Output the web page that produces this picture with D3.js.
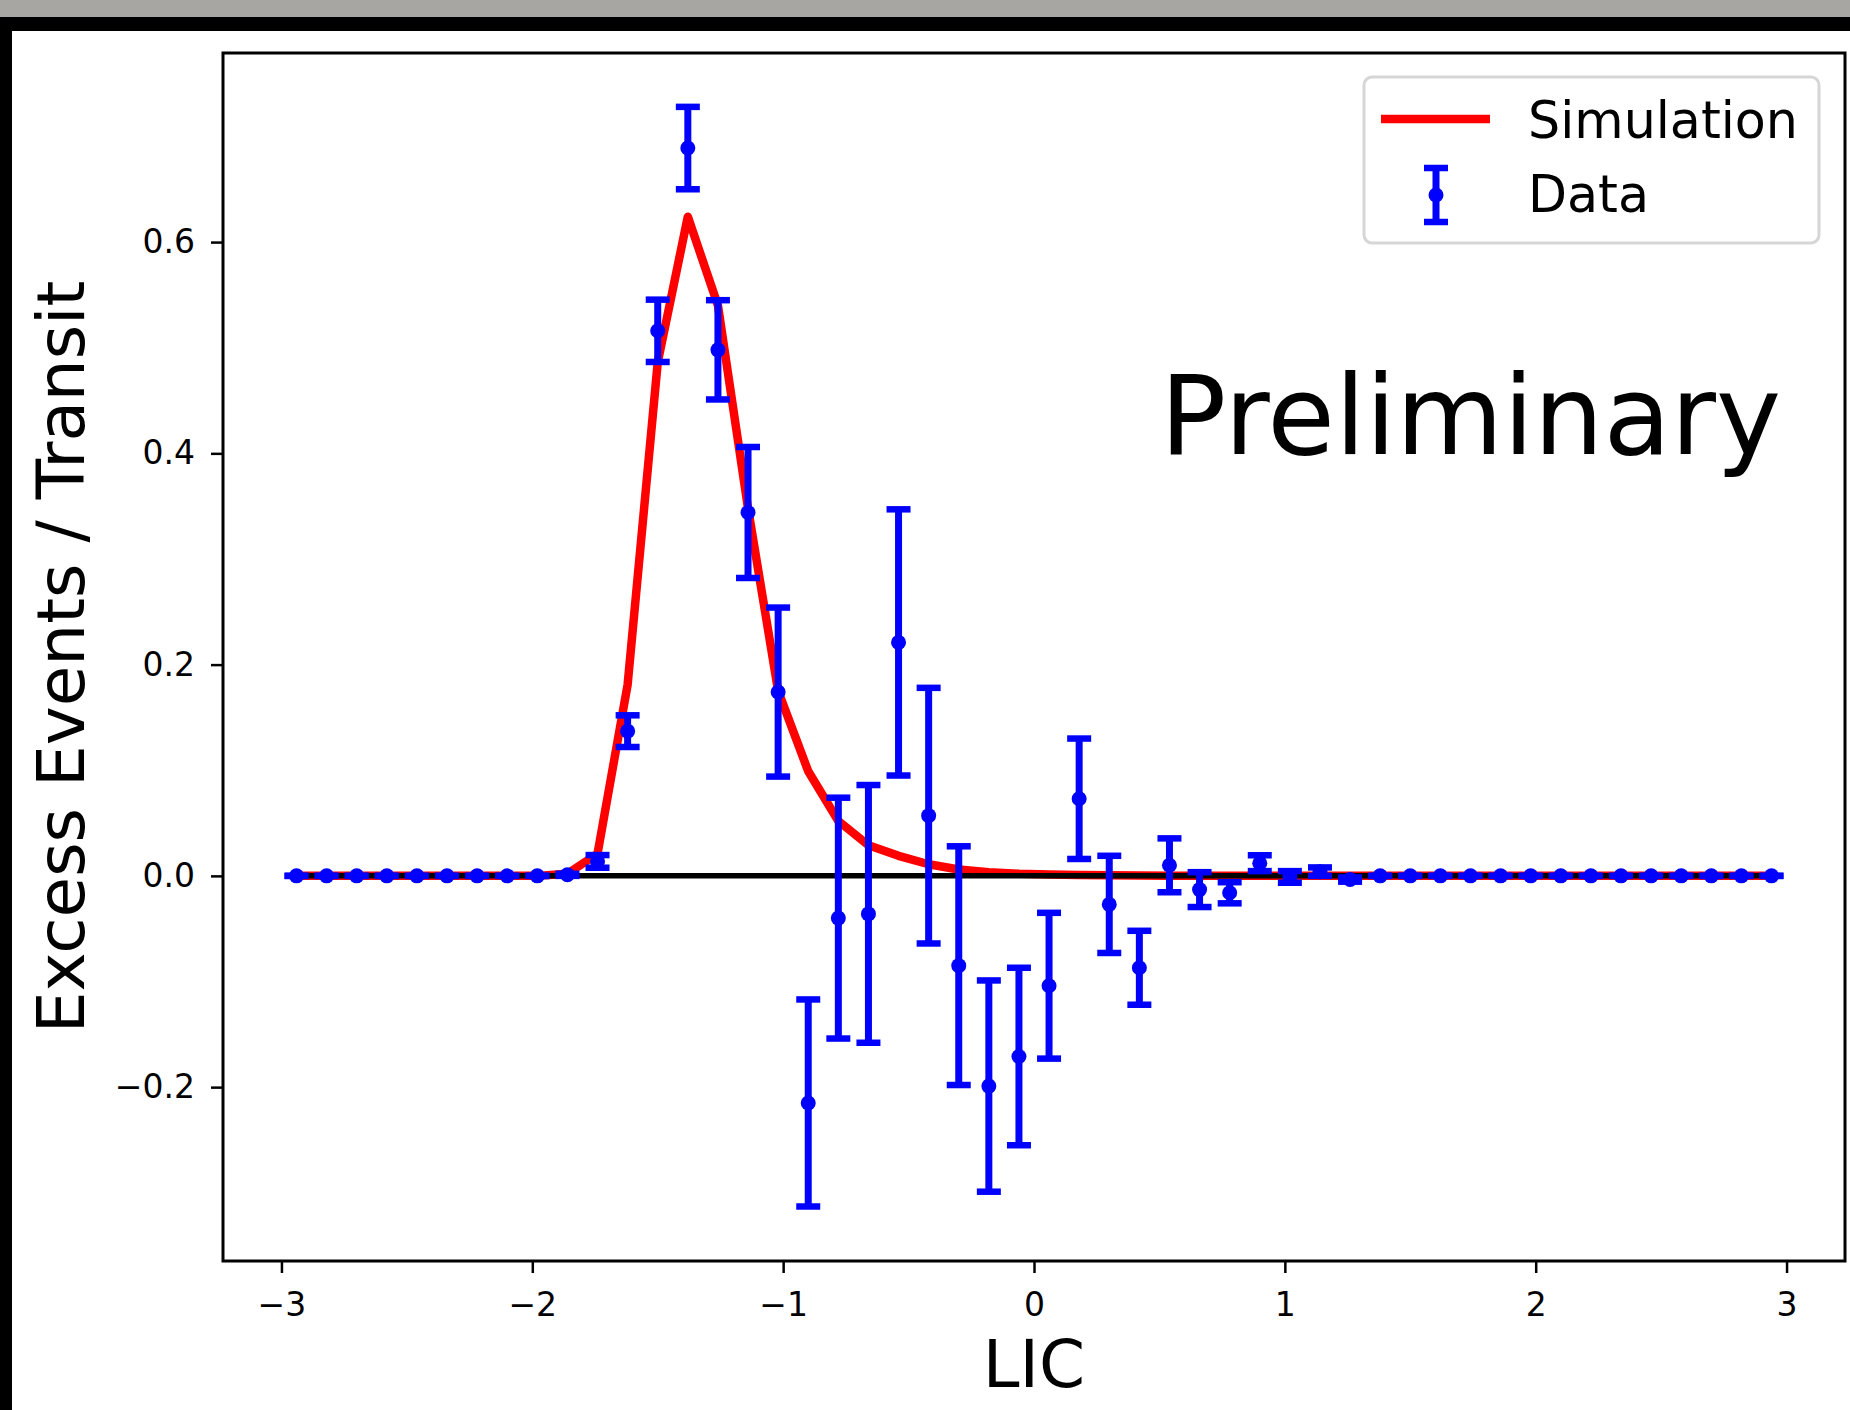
<!DOCTYPE html>
<html>
<head>
<meta charset="utf-8">
<script src="https://cdn.jsdelivr.net/npm/d3@7"></script>
<style>
  body { margin: 0; background: #fff; }
  svg { display: block; font-family: "DejaVu Sans", sans-serif; }
</style>
</head>
<body>
<svg id="chart" width="1850" height="1410"></svg>
<script>
// bin centres (LIC)
const lic = [-2.94, -2.82, -2.70, -2.58, -2.46, -2.34, -2.22, -2.10, -1.98, -1.86,
  -1.74, -1.62, -1.50, -1.38, -1.26, -1.14, -1.02, -0.90, -0.78, -0.66,
  -0.54, -0.42, -0.30, -0.18, -0.06, 0.06, 0.18, 0.30, 0.42, 0.54,
  0.66, 0.78, 0.90, 1.02, 1.14, 1.26, 1.38, 1.50, 1.62, 1.74,
  1.86, 1.98, 2.10, 2.22, 2.34, 2.46, 2.58, 2.70, 2.82, 2.94];

// simulation curve
const simulation = [0, 0, 0, 0, 0, 0, 0, 0, 0, 0.002,
  0.021, 0.181, 0.486, 0.624, 0.540, 0.348, 0.175, 0.099, 0.052, 0.029,
  0.019, 0.011, 0.006, 0.0035, 0.002, 0.0012, 0.0008, 0.0005, 0.0003, 0.0002,
  0, 0, 0, 0, 0, 0, 0, 0, 0, 0,
  0, 0, 0, 0, 0, 0, 0, 0, 0, 0];

// measured excess events / transit
const dataValues = [0, 0, 0, 0, 0, 0, 0, 0, 0, 0.001,
  0.0137, 0.137, 0.516, 0.689, 0.498, 0.344, 0.174, -0.215, -0.040, -0.036,
  0.221, 0.057, -0.085, -0.199, -0.171, -0.104, 0.073, -0.027, -0.087, 0.010,
  -0.013, -0.016, 0.012, -0.001, 0.004, -0.0035, 0, 0, 0, 0,
  0, 0, 0, 0, 0, 0, 0, 0, 0, 0];

const dataErrors = [0, 0, 0, 0, 0, 0, 0, 0, 0, 0.001,
  0.006, 0.015, 0.0295, 0.039, 0.047, 0.062, 0.080, 0.098, 0.114, 0.122,
  0.126, 0.121, 0.113, 0.100, 0.084, 0.069, 0.057, 0.046, 0.035, 0.0255,
  0.0165, 0.010, 0.0075, 0.0055, 0.004, 0.002, 0, 0, 0, 0,
  0, 0, 0, 0, 0, 0, 0, 0, 0, 0];

const xTicks = [-3, -2, -1, 0, 1, 2, 3];
const yTicks = [-0.2, 0.0, 0.2, 0.4, 0.6];

//Chart Config
const frame = {left: 223, top: 53, right: 1845, bottom: 1261};
const svg = d3.select("#chart");

// photo edges around the screen
svg.append("rect").attr("x", 0).attr("y", 0).attr("width", 1850).attr("height", 17).attr("fill", "#a8a6a2");
svg.append("rect").attr("x", 0).attr("y", 17).attr("width", 1850).attr("height", 14).attr("fill", "#000");
svg.append("rect").attr("x", 0).attr("y", 17).attr("width", 12).attr("height", 1393).attr("fill", "#000");

const xScale = d3.scaleLinear().domain([-3.233, 3.233]).range([frame.left, frame.right]);
const yScale = d3.scaleLinear().domain([-0.3646, 0.779]).range([frame.bottom, frame.top]);

const xAxis = svg.append("g").attr("class", "xaxis")
  .attr("transform", "translate(0," + frame.bottom + ")")
  .call(d3.axisBottom(xScale).tickValues(xTicks).tickFormat(d3.format("d")).tickSize(12).tickPadding(20).tickSizeOuter(0));
const yAxis = svg.append("g").attr("class", "yaxis")
  .attr("transform", "translate(" + frame.left + ",0)")
  .call(d3.axisLeft(yScale).tickValues(yTicks).tickFormat(d3.format(".1f")).tickSize(12).tickPadding(16).tickSizeOuter(0));

[xAxis, yAxis].forEach(ax => {
  ax.select(".domain").remove();
  ax.selectAll(".tick line").attr("stroke", "#000").attr("stroke-width", 2.5);
  ax.selectAll(".tick text").attr("font-size", 33).attr("fill", "#000")
    .attr("font-family", "DejaVu Sans");
});

const lineGen = d3.line()
  .x((d, i) => xScale(lic[i]))
  .y(d => yScale(d));

// simulation (red), then zero line (black) on top
svg.append("path").datum(simulation)
  .attr("fill", "none").attr("stroke", "#ff0000").attr("stroke-width", 8.5)
  .attr("stroke-linejoin", "round")
  .attr("d", lineGen);

svg.append("path").datum(lic.map(() => 0))
  .attr("fill", "none").attr("stroke", "#000").attr("stroke-width", 5.5)
  .attr("d", lineGen);

// error bars
const bars = svg.append("g").attr("class", "errorbars");
const capW = 12;
lic.forEach((c, i) => {
  const x = xScale(c);
  const lo = yScale(dataValues[i] - dataErrors[i]);
  const hi = yScale(dataValues[i] + dataErrors[i]);
  bars.append("line").attr("x1", x).attr("x2", x).attr("y1", lo).attr("y2", hi)
    .attr("stroke", "#0000ff").attr("stroke-width", 7);
  [lo, hi].forEach(yy => {
    bars.append("line").attr("x1", x - capW).attr("x2", x + capW).attr("y1", yy).attr("y2", yy)
      .attr("stroke", "#0000ff").attr("stroke-width", 6.5);
  });
});
bars.selectAll("circle").data(dataValues).join("circle")
  .attr("cx", (d, i) => xScale(lic[i]))
  .attr("cy", d => yScale(d))
  .attr("r", 7.5)
  .attr("fill", "#0000ff");

// frame
svg.append("rect")
  .attr("x", frame.left).attr("y", frame.top)
  .attr("width", frame.right - frame.left).attr("height", frame.bottom - frame.top)
  .attr("fill", "none").attr("stroke", "#000").attr("stroke-width", 3);

// axis labels
svg.append("text").attr("x", (frame.left + frame.right) / 2).attr("y", 1387)
  .attr("text-anchor", "middle").attr("font-size", 66).text("LIC");
svg.append("text").attr("transform", "translate(84," + ((frame.top + frame.bottom) / 2) + ") rotate(-90)")
  .attr("text-anchor", "middle").attr("font-size", 66).text("Excess Events / Transit");

// Preliminary
svg.append("text").attr("x", 1160).attr("y", 454)
  .attr("font-size", 110).text("Preliminary");

// legend
const lg = svg.append("g").attr("class", "legend");
lg.append("rect").attr("x", 1364).attr("y", 77).attr("width", 455).attr("height", 166)
  .attr("rx", 8).attr("fill", "#fff").attr("stroke", "#d6d6d6").attr("stroke-width", 3);
lg.append("line").attr("x1", 1381).attr("x2", 1490).attr("y1", 119).attr("y2", 119)
  .attr("stroke", "#ff0000").attr("stroke-width", 8.5);
lg.append("text").attr("x", 1528).attr("y", 138).attr("font-size", 50.7).text("Simulation");
lg.append("line").attr("x1", 1436).attr("x2", 1436).attr("y1", 168).attr("y2", 222)
  .attr("stroke", "#0000ff").attr("stroke-width", 7);
[168, 222].forEach(yy => lg.append("line").attr("x1", 1436 - capW).attr("x2", 1436 + capW)
  .attr("y1", yy).attr("y2", yy).attr("stroke", "#0000ff").attr("stroke-width", 6.5));
lg.append("circle").attr("cx", 1436).attr("cy", 195).attr("r", 7.5).attr("fill", "#0000ff");
lg.append("text").attr("x", 1528).attr("y", 212).attr("font-size", 50.7).text("Data");
</script>
</body>
</html>
